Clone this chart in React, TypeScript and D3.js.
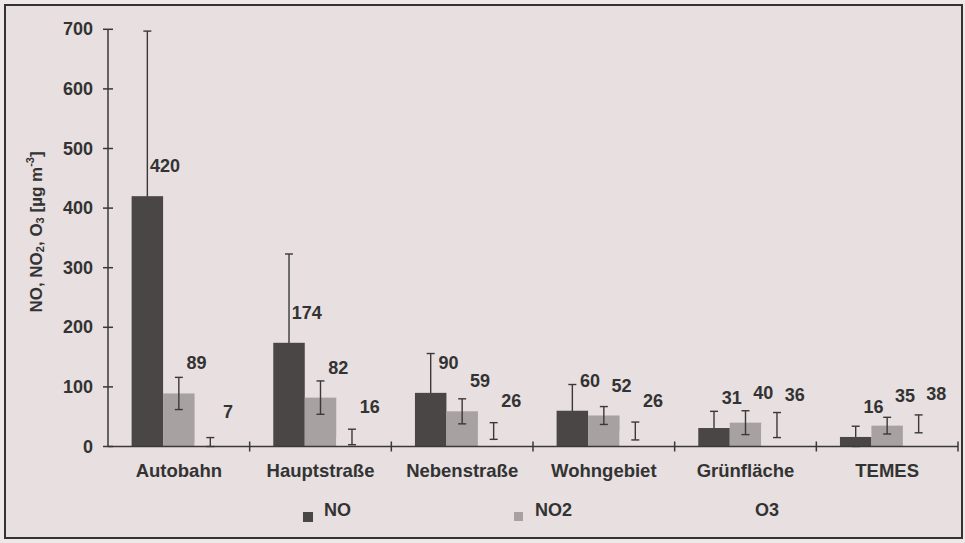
import React from "react";
import * as d3 from "d3";

const categories = ["Autobahn", "Hauptstraße", "Nebenstraße", "Wohngebiet", "Grünfläche", "TEMES"];
const seriesNames = ["NO", "NO2", "O3"];
const noValues = [420, 174, 90, 60, 31, 16];
const no2Values = [89, 82, 59, 52, 40, 35];
const o3Values = [7, 16, 26, 26, 36, 38];
const noErr = [277, 149, 66, 44, 28, 18];
const no2Err = [27, 28, 21, 15, 20, 14];
const o3Err = [8, 13, 14, 15, 21, 15];
const yTicks = [0, 100, 200, 300, 400, 500, 600, 700];

const W = 965;
const H = 543;
const BG = "#e7dfe0";
const INK = "#3a3838";
const colors: Record<string, string> = { NO: "#4a4646", NO2: "#a7a1a1", O3: BG };
const FONT = "Arial, 'Liberation Sans', Helvetica, sans-serif";

export default function App() {
  const x0 = d3.scaleBand<string>().domain(categories).range([108, 958]).padding(0);
  const x1 = d3.scaleBand<string>().domain(seriesNames).range([0, x0.bandwidth()]).paddingInner(0).paddingOuter(0.75);
  const y = d3.scaleLinear().domain([0, 700]).range([446.5, 29.3]);
  const bw = x1.bandwidth();

  const seriesData: Record<string, { v: number[]; e: number[] }> = {
    NO: { v: noValues, e: noErr },
    NO2: { v: no2Values, e: no2Err },
    O3: { v: o3Values, e: o3Err },
  };

  const boundaries = categories.map((c) => (x0(c) as number) + x0.bandwidth());

  const errBars = (s: string) =>
    categories.map((c, i) => {
      const v = seriesData[s].v[i];
      const e = seriesData[s].e[i];
      const cx = (x0(c) as number) + (x1(s) as number) + bw / 2;
      const hi = y(v + e);
      const lo = y(Math.max(0, v - e));
      const cap = 4;
      return (
        <g key={"e" + s + c} stroke={INK} strokeWidth={1.4}>
          <line x1={cx} x2={cx} y1={hi} y2={lo} />
          <line x1={cx - cap} x2={cx + cap} y1={hi} y2={hi} />
          <line x1={cx - cap} x2={cx + cap} y1={lo} y2={lo} />
        </g>
      );
    });

  const bars = (s: string) =>
    categories.map((c, i) => {
      const v = seriesData[s].v[i];
      const bx = (x0(c) as number) + (x1(s) as number);
      return <rect key={s + c} x={bx} y={y(v)} width={bw} height={y(0) - y(v)} fill={colors[s]} />;
    });

  return (
    <svg width={W} height={H} style={{ position: "absolute", left: 0, top: 0, background: "#eee8e8" }}>
      <rect x={5} y={5} width={957} height={533} fill={BG} stroke="#333" strokeWidth={2} />
      {errBars("NO")}
      {bars("NO")}
      {bars("NO2")}
      {bars("O3")}
      {errBars("NO2")}
      {errBars("O3")}
      {/* value labels */}
      {seriesNames.map((s) =>
        categories.map((c, i) => {
          const v = seriesData[s].v[i];
          const bx = (x0(c) as number) + (x1(s) as number);
          return (
            <text
              key={"l" + s + c}
              x={bx + bw + 2}
              y={y(v) - 30}
              textAnchor="middle"
              dominantBaseline="central"
              fontFamily={FONT}
              fontWeight="bold"
              fontSize={18}
              fill="#333"
            >
              {v}
            </text>
          );
        })
      )}
      {/* y axis */}
      <line x1={108} x2={108} y1={y(700)} y2={y(0)} stroke={INK} strokeWidth={1.5} />
      {yTicks.map((t) => (
        <g key={"yt" + t}>
          <line x1={103} x2={113} y1={y(t)} y2={y(t)} stroke={INK} strokeWidth={1.5} />
          <text x={93} y={y(t)} textAnchor="end" dominantBaseline="central" fontFamily={FONT} fontWeight="bold" fontSize={18} fill="#333">
            {t}
          </text>
        </g>
      ))}
      {/* x axis */}
      <line x1={108} x2={958} y1={y(0)} y2={y(0)} stroke={INK} strokeWidth={1.5} />
      {boundaries.map((bx, i) => (
        <line key={"xt" + i} x1={bx} x2={bx} y1={y(0) - 5} y2={y(0) + 5} stroke={INK} strokeWidth={1.5} />
      ))}
      {categories.map((c) => (
        <text
          key={"xl" + c}
          x={(x0(c) as number) + x0.bandwidth() / 2}
          y={470}
          textAnchor="middle"
          dominantBaseline="central"
          fontFamily={FONT}
          fontWeight="bold"
          fontSize={18.5}
          fill="#333"
        >
          {c}
        </text>
      ))}
      {/* y title */}
      <text
        transform="translate(36,232) rotate(-90)"
        textAnchor="middle"
        dominantBaseline="central"
        fontFamily={FONT}
        fontWeight="bold"
        fontSize={17}
        fill="#333"
      >
        NO, NO<tspan fontSize={11} dy={4}>2</tspan>
        <tspan dy={-4}>, O</tspan>
        <tspan fontSize={11} dy={4}>3</tspan>
        <tspan dy={-4}> [µg m</tspan>
        <tspan fontSize={11} dy={-6}>-3</tspan>
        <tspan dy={6}>]</tspan>
      </text>
      {/* legend */}
      {[
        { s: "NO", sx: 303, tx: 324, size: 10 },
        { s: "NO2", sx: 514, tx: 535, size: 9 },
        { s: "O3", sx: 735, tx: 755, size: 9 },
      ].map((l) => (
        <g key={"lg" + l.s}>
          <rect x={l.sx} y={512} width={l.size} height={l.size} fill={colors[l.s]} />
          <text x={l.tx} y={510} dominantBaseline="central" fontFamily={FONT} fontWeight="bold" fontSize={18} fill="#333">
            {l.s}
          </text>
        </g>
      ))}
    </svg>
  );
}
